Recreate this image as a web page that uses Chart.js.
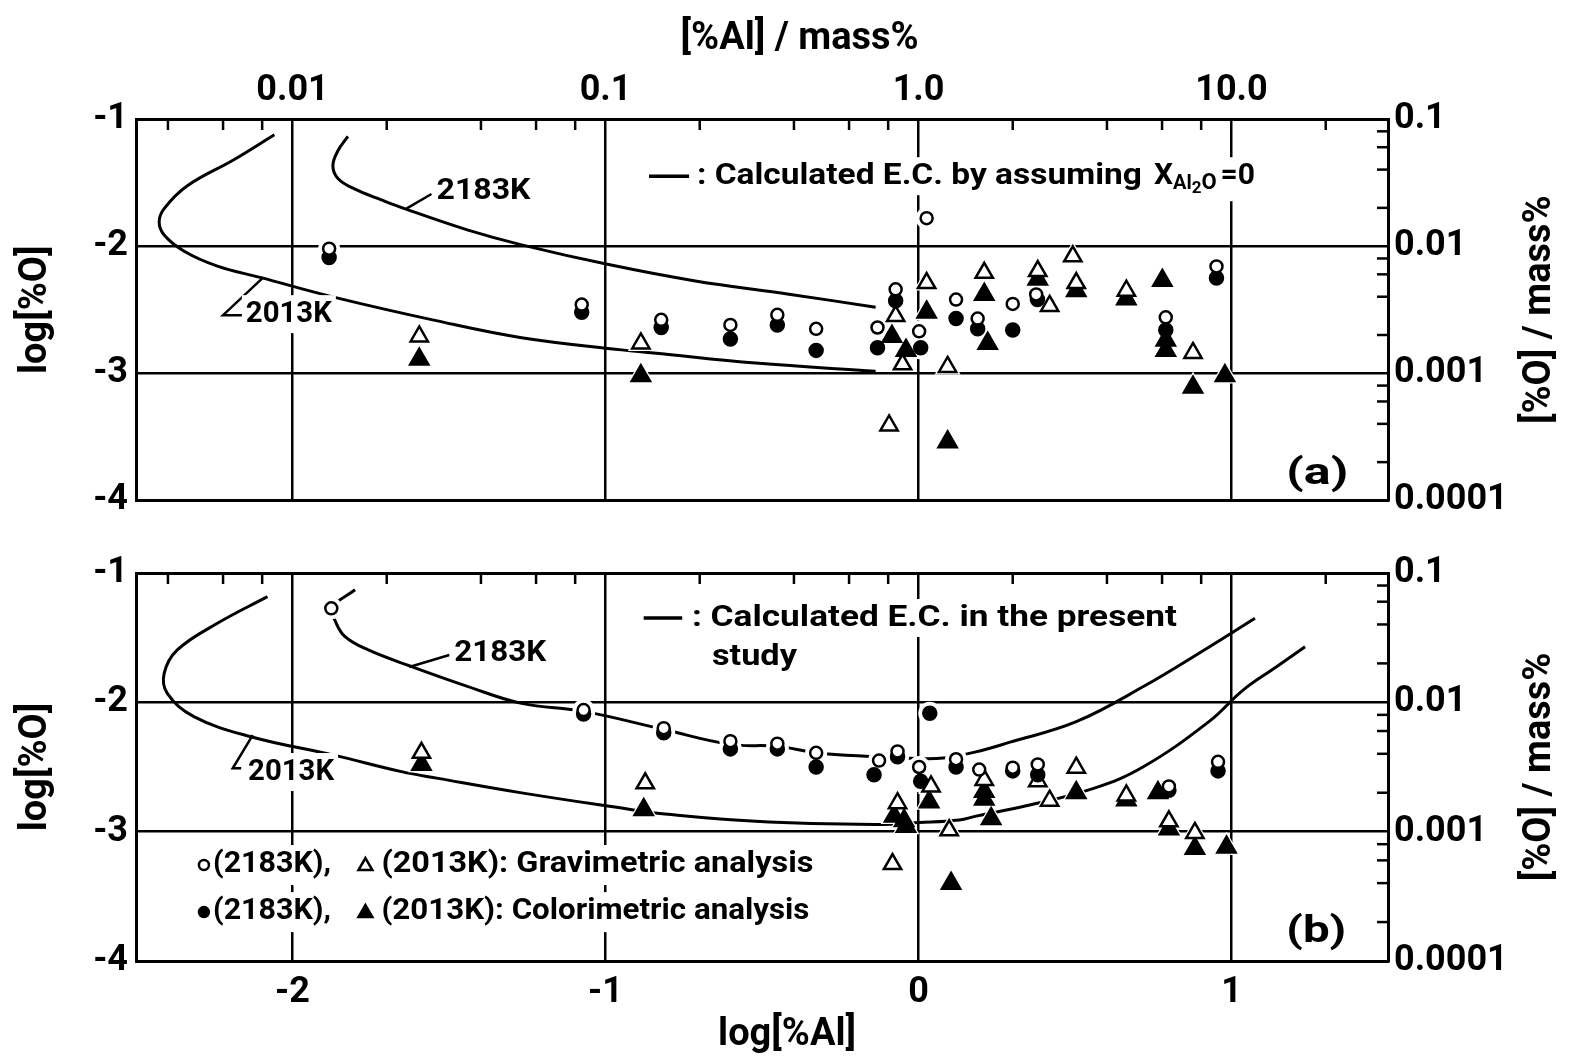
<!DOCTYPE html>
<html>
<head>
<meta charset="utf-8">
<script src="https://cdn.jsdelivr.net/npm/chart.js@4.4.1/dist/chart.umd.min.js"></script>
<style>
    html, body { margin: 0; padding: 0; background: #fff; }
    .panel { position: absolute; left: 0; width: 1569px; }
    #wrapA { top: 0; height: 530px; }
    #wrapB { top: 530px; height: 534px; }
</style>
</head>
<body>
<div class="panel" id="wrapA"><canvas id="chartA" width="1569" height="530"></canvas></div>
<div class="panel" id="wrapB"><canvas id="chartB" width="1569" height="534"></canvas></div>
<script>
// Axis ticks
const logAlMajor = [-2, -1, 0, 1];
const massAlLabels = ['0.01', '0.1', '1.0', '10.0'];
const logOMajor = [-1, -2, -3, -4];
const massOLabels = ['0.1', '0.01', '0.001', '0.0001'];
const minorMultiples = [2, 4, 6, 8];

// Panel (a) - open circles: 2183K gravimetric
const aOpenCircleX = [-1.883, -1.076, -0.822, -0.601, -0.451, -0.327, -0.073, -0.131, 0.002, 0.026, 0.12, 0.189, 0.301, 0.376, 0.79, 0.952];
const aOpenCircleY = [-2.02, -2.46, -2.58, -2.62, -2.54, -2.65, -2.34, -2.64, -2.67, -1.78, -2.42, -2.57, -2.455, -2.38, -2.56, -2.16];
// filled circles: 2183K colorimetric
const aFilledCircleX = [-1.883, -1.076, -0.822, -0.601, -0.451, -0.327, -0.073, -0.131, 0.007, 0.12, 0.189, 0.301, 0.38, 0.79, 0.952];
const aFilledCircleY = [-2.09, -2.52, -2.64, -2.73, -2.62, -2.82, -2.43, -2.80, -2.80, -2.57, -2.65, -2.66, -2.42, -2.66, -2.25];
// open triangles: 2013K gravimetric
const aOpenTriX = [-1.595, -0.887, -0.073, -0.051, -0.094, 0.026, 0.093, 0.21, 0.381, 0.419, 0.493, 0.504, 0.664, 0.877];
const aOpenTriY = [-2.71, -2.765, -2.55, -2.93, -3.41, -2.29, -2.95, -2.21, -2.196, -2.47, -2.08, -2.29, -2.35, -2.84];
// filled triangles: 2013K colorimetric
const aFilledTriX = [-1.595, -0.887, -0.085, -0.04, 0.026, 0.093, 0.21, 0.221, 0.381, 0.504, 0.664, 0.779, 0.79, 0.79, 0.877, 0.979];
const aFilledTriY = [-2.89, -3.02, -2.71, -2.82, -2.52, -3.54, -2.38, -2.765, -2.26, -2.35, -2.415, -2.27, -2.74, -2.82, -3.11, -3.02];
// calculated curves, X(Al2O) = 0
const aCurve2183X = [-1.823, -1.855, -1.871, -1.854, -1.802, -1.716, -1.642, -1.439, -1.268, -0.99, -0.713, -0.414, -0.137];
const aCurve2183Y = [-1.137, -1.25, -1.37, -1.47, -1.55, -1.636, -1.705, -1.874, -1.99, -2.145, -2.274, -2.378, -2.48];
const aCurve2013X = [-2.058, -2.186, -2.336, -2.41, -2.426, -2.41, -2.346, -2.24, -2.10, -1.865, -1.545, -1.268, -0.948, -0.846, -0.52, -0.137];
const aCurve2013Y = [-1.124, -1.318, -1.525, -1.705, -1.81, -1.912, -2.04, -2.157, -2.248, -2.403, -2.584, -2.72, -2.816, -2.84, -2.92, -2.984];

// Panel (b)
const bOpenCircleX = [-1.876, -1.07, -0.814, -0.601, -0.451, -0.327, -0.126, -0.067, 0.002, 0.12, 0.194, 0.301, 0.381, 0.80, 0.957];
const bOpenCircleY = [-1.273, -2.06, -2.20, -2.30, -2.32, -2.39, -2.45, -2.38, -2.50, -2.44, -2.52, -2.505, -2.48, -2.65, -2.46];
const bFilledCircleX = [-1.07, -0.814, -0.601, -0.451, -0.327, -0.142, -0.067, 0.036, 0.007, 0.12, 0.301, 0.381, 0.80, 0.957];
const bFilledCircleY = [-2.09, -2.235, -2.36, -2.36, -2.50, -2.56, -2.42, -2.085, -2.61, -2.50, -2.53, -2.56, -2.68, -2.53];
const bOpenTriX = [-1.588, -0.873, -0.067, -0.083, 0.04, 0.098, 0.21, 0.381, 0.419, 0.504, 0.664, 0.80, 0.883];
const bOpenTriY = [-2.39, -2.626, -2.78, -3.25, -2.65, -2.99, -2.60, -2.61, -2.76, -2.505, -2.72, -2.92, -3.01];
const bFilledTriX = [-1.588, -0.878, -0.078, -0.046, -0.04, 0.034, 0.104, 0.21, 0.21, 0.232, 0.504, 0.664, 0.765, 0.80, 0.883, 0.984];
const bFilledTriY = [-2.48, -2.83, -2.88, -2.915, -2.96, -2.77, -3.40, -2.69, -2.75, -2.90, -2.70, -2.755, -2.70, -2.98, -3.13, -3.12];
// calculated curves in the present study
const bCurve2183X = [-1.80, -1.876, -1.865, -1.833, -1.758, -1.62, -1.439, -1.268, -1.07, -0.814, -0.601, -0.451, -0.327, -0.147, 0.0, 0.08, 0.18, 0.29, 0.504, 0.717, 0.93, 1.075];
const bCurve2183Y = [-1.13, -1.27, -1.363, -1.49, -1.595, -1.723, -1.878, -2.008, -2.07, -2.21, -2.325, -2.34, -2.39, -2.42, -2.435, -2.43, -2.385, -2.31, -2.15, -1.88, -1.57, -1.35];
const bCurve2013X = [-2.08, -2.24, -2.368, -2.41, -2.40, -2.315, -2.133, -1.865, -1.652, -1.535, -1.268, -0.916, -0.841, -0.52, -0.137, 0.002, 0.13, 0.184, 0.344, 0.557, 0.717, 0.93, 1.037, 1.144, 1.235];
const bCurve2013Y = [-1.183, -1.389, -1.595, -1.776, -1.93, -2.11, -2.266, -2.41, -2.536, -2.588, -2.70, -2.83, -2.856, -2.92, -2.945, -2.93, -2.91, -2.88, -2.80, -2.667, -2.50, -2.145, -1.905, -1.725, -1.57];

const FONT = "Roboto, 'DejaVu Sans', sans-serif";
const INK = '#000';

function pts(xs, ys) {
    return xs.map((x, i) => ({ x: x, y: ys[i] }));
}

// marker datasets + white halos (break grid lines and curves round the marks) + curves
function buildDatasets(p) {
    const marks = [
        { data: pts(p.oc[0], p.oc[1]), style: 'circle', r: 6, fill: '#fff' },
        { data: pts(p.fc[0], p.fc[1]), style: 'circle', r: 6.5, fill: INK },
        { data: pts(p.ot[0], p.ot[1]), style: 'triangle', r: 10, fill: '#fff' },
        { data: pts(p.ft[0], p.ft[1]), style: 'triangle', r: 10.5, fill: INK }
    ];
    const sets = [];
    marks.forEach(m => {
        sets.push({
            data: m.data, pointStyle: m.style, pointRadius: m.r,
            pointBackgroundColor: m.fill, pointBorderColor: INK, pointBorderWidth: 2.5,
            showLine: false
        });
    });
    marks.forEach(m => {
        sets.push({
            data: m.data, pointStyle: m.style, pointRadius: m.r + 5,
            pointBackgroundColor: '#fff', pointBorderWidth: 0, showLine: false
        });
    });
    p.curves.forEach(c => {
        sets.push({
            data: pts(c[0], c[1]), showLine: true, pointRadius: 0,
            borderColor: INK, borderWidth: 3, tension: 0.4, fill: false
        });
    });
    return sets;
}

function drawFit(ctx, str, x, y, width, bg) {
    const w = ctx.measureText(str).width;
    const sx = width ? width / w : 1;
    const drawn = w * sx;
    if (bg) {
        ctx.fillStyle = '#fff';
        ctx.fillRect(x - 4, y - 19, drawn + 8, 38);
        ctx.fillStyle = INK;
    }
    ctx.save();
    ctx.translate(x, y);
    ctx.scale(sx, 1);
    ctx.fillText(str, 0, 0);
    ctx.restore();
    return x + drawn;
}

function line(ctx, x1, y1, x2, y2) {
    ctx.beginPath();
    ctx.moveTo(x1, y1);
    ctx.lineTo(x2, y2);
    ctx.stroke();
}

const decorPlugin = {
    id: 'decor',
    afterDraw(chart, args, opts) {
        const ctx = chart.ctx;
        const xs = chart.scales.x, ys = chart.scales.y, ca = chart.chartArea;
        const px = v => xs.getPixelForValue(v);
        const py = v => ys.getPixelForValue(v);
        ctx.save();
        ctx.strokeStyle = INK;
        ctx.fillStyle = INK;
        ctx.lineWidth = 2.5;

        // inward minor ticks: top edge ([%Al]) and right edge ([%O])
        for (let k = -4; k <= 1; k++) {
            minorMultiples.forEach(m => {
                const v = Math.log10(m) + k;
                if (v > xs.min && v < xs.max) line(ctx, px(v), ca.top, px(v), ca.top + 11);
                if (v > ys.min && v < ys.max) line(ctx, ca.right, py(v), ca.right - 11, py(v));
            });
        }

        // leader lines
        (opts.leaders || []).forEach(l => {
            ctx.beginPath();
            l.forEach((q, i) => i ? ctx.lineTo(px(q[0]), py(q[1])) : ctx.moveTo(px(q[0]), py(q[1])));
            ctx.stroke();
        });

        ctx.textBaseline = 'middle';
        ctx.textAlign = 'left';
        (opts.texts || []).forEach(t => {
            ctx.font = 'bold ' + (t.size || 30) + 'px ' + FONT;
            drawFit(ctx, t.str, px(t.x), py(t.y), t.w, true);
        });

        // legend for curves
        if (opts.curveKey) {
            const k = opts.curveKey;
            ctx.font = 'bold 30px ' + FONT;
            const tx = px(k.textX), ty = py(k.y);
            const end = drawFit(ctx, k.str, tx, ty, k.w, true);
            ctx.lineWidth = 3.5;
            line(ctx, px(k.dash[0]), ty, px(k.dash[1]), ty);
            if (k.sub) {
                ctx.fillStyle = '#fff';
                ctx.fillRect(end, ty - 19, 150, 44);
                ctx.fillStyle = INK;
                let x = end + 12;
                k.sub.forEach(s => {
                    ctx.font = 'bold ' + s.size + 'px ' + FONT;
                    ctx.fillText(s.str, x, ty + s.dy);
                    x += ctx.measureText(s.str).width + (s.gap || 0);
                });
            }
            if (k.line2) {
                ctx.font = 'bold 30px ' + FONT;
                drawFit(ctx, k.line2.str, px(k.line2.x), py(k.line2.y), k.line2.w, true);
            }
        }

        // legend for symbols
        if (opts.symbolKey) {
            ctx.font = 'bold 29px ' + FONT;
            opts.symbolKey.forEach(row => {
                const y = py(row.y);
                ctx.fillStyle = '#fff';
                ctx.fillRect(px(row.m1) - 10, y - 20, px(row.textX2) - px(row.m1) + row.w2 + 16, 40);
                ctx.fillStyle = INK;
                drawFit(ctx, '(2183K),', px(row.textX1), y, row.w1, false);
                drawFit(ctx, row.str, px(row.textX2), y, row.w2, false);
                ctx.lineWidth = 2.5;
                ctx.strokeStyle = INK;
                ctx.fillStyle = row.filled ? INK : '#fff';
                Chart.helpers.drawPoint(ctx, { pointStyle: 'circle', radius: 5, borderWidth: 2.5 }, px(row.m1), y);
                Chart.helpers.drawPoint(ctx, { pointStyle: 'triangle', radius: 8, borderWidth: 2.5 }, px(row.m2), y + 1);
                ctx.fillStyle = INK;
            });
        }

        // axis titles
        ctx.font = 'bold 38px ' + FONT;
        ctx.textAlign = 'center';
        ctx.fillStyle = INK;
        const mid = (ca.top + ca.bottom) / 2;
        ctx.save();
        ctx.translate(ca.left - 100, mid);
        ctx.rotate(-Math.PI / 2);
        ctx.fillText('log[%O]', 0, 0);
        ctx.restore();
        ctx.save();
        ctx.translate(ca.right + 152, mid);
        ctx.rotate(-Math.PI / 2);
        ctx.fillText('[%O] / mass%', 0, 0);
        ctx.restore();
        if (opts.topTitle) ctx.fillText('[%Al] / mass%', px(-0.38), ca.top - 80);
        if (opts.bottomTitle) ctx.fillText('log[%Al]', px(-0.42), ca.bottom + 74);
        ctx.restore();
    }
};

function makePanel(id, p) {
    const tickFont = { family: FONT, size: 36, weight: 'bold' };
    return new Chart(document.getElementById(id), {
        type: 'scatter',
        data: { datasets: buildDatasets(p) },
        plugins: [decorPlugin],
        options: {
            responsive: false,
            animation: false,
            events: [],
            layout: { padding: 0 },
            plugins: {
                legend: { display: false },
                tooltip: { enabled: false },
                decor: p.decor
            },
            scales: {
                x: {
                    type: 'linear', position: 'bottom', min: -2.5, max: 1.5,
                    afterBuildTicks: s => { s.ticks = logAlMajor.map(v => ({ value: v })); },
                    afterFit: s => { s.height = p.bottomH; },
                    grid: { color: INK, lineWidth: 2.5, drawTicks: false },
                    border: { display: true, color: INK, width: 3 },
                    ticks: {
                        display: p.bottomLabels, font: tickFont, color: INK, padding: 10,
                        callback: v => (v < 0 ? '-' + Math.abs(v) : String(v))
                    }
                },
                xTop: {
                    type: 'linear', position: 'top', min: -2.5, max: 1.5,
                    afterBuildTicks: s => { s.ticks = logAlMajor.map(v => ({ value: v })); },
                    afterFit: s => { s.height = p.topH; },
                    grid: { display: false, drawTicks: false },
                    border: { display: true, color: INK, width: 3 },
                    ticks: {
                        display: p.topLabels, font: tickFont, color: INK, padding: 6,
                        callback: v => massAlLabels[logAlMajor.indexOf(v)]
                    }
                },
                y: {
                    type: 'linear', position: 'left', min: -4, max: -1,
                    afterBuildTicks: s => { s.ticks = logOMajor.map(v => ({ value: v })); },
                    afterFit: s => { s.width = 136; },
                    grid: { color: INK, lineWidth: 2.5, drawTicks: false },
                    border: { display: true, color: INK, width: 3 },
                    ticks: {
                        font: tickFont, color: INK, padding: 8,
                        callback: v => '-' + Math.abs(v)
                    }
                },
                yRight: {
                    type: 'linear', position: 'right', min: -4, max: -1,
                    afterBuildTicks: s => { s.ticks = logOMajor.map(v => ({ value: v })); },
                    afterFit: s => { s.width = 181; },
                    grid: { display: false, drawTicks: false },
                    border: { display: true, color: INK, width: 3 },
                    ticks: {
                        font: tickFont, color: INK, padding: 6,
                        callback: v => massOLabels[logOMajor.indexOf(v)]
                    }
                }
            }
        }
    });
}

makePanel('chartA', {
    oc: [aOpenCircleX, aOpenCircleY], fc: [aFilledCircleX, aFilledCircleY],
    ot: [aOpenTriX, aOpenTriY], ft: [aFilledTriX, aFilledTriY],
    curves: [[aCurve2183X, aCurve2183Y], [aCurve2013X, aCurve2013Y]],
    topH: 119, bottomH: 24, topLabels: true, bottomLabels: false,
    decor: {
        topTitle: true,
        texts: [
            { str: '2183K', x: -1.54, y: -1.574, w: 94 },
            { str: '2013K', x: -2.149, y: -2.535, w: 86 },
            { str: '(a)', x: 1.175, y: -3.80, w: 62, size: 36 }
        ],
        leaders: [
            [[-1.636, -1.705], [-1.556, -1.59]],
            [[-2.094, -2.248], [-2.222, -2.543], [-2.158, -2.543]]
        ],
        curveKey: {
            str: ': Calculated E.C. by assuming', textX: -0.708, y: -1.45, w: 445,
            dash: [-0.861, -0.733],
            sub: [
                { str: 'X', size: 30, dy: 0 },
                { str: 'Al', size: 20, dy: 8 },
                { str: '2', size: 17, dy: 13 },
                { str: 'O', size: 22, dy: 7, gap: 4 },
                { str: '=0', size: 30, dy: 0 }
            ]
        }
    }
});

makePanel('chartB', {
    oc: [bOpenCircleX, bOpenCircleY], fc: [bFilledCircleX, bFilledCircleY],
    ot: [bOpenTriX, bOpenTriY], ft: [bFilledTriX, bFilledTriY],
    curves: [[bCurve2183X, bCurve2183Y], [bCurve2013X, bCurve2013Y]],
    topH: 43, bottomH: 103, topLabels: false, bottomLabels: true,
    decor: {
        bottomTitle: true,
        texts: [
            { str: '2183K', x: -1.483, y: -1.626, w: 92 },
            { str: '2013K', x: -2.142, y: -2.539, w: 86 },
            { str: '(b)', x: 1.175, y: -3.784, w: 60, size: 36 }
        ],
        leaders: [
            [[-1.627, -1.727], [-1.499, -1.634]],
            [[-2.127, -2.253], [-2.191, -2.51], [-2.164, -2.51]]
        ],
        curveKey: {
            str: ': Calculated E.C. in the present', textX: -0.724, y: -1.348, w: 485,
            dash: [-0.878, -0.755],
            line2: { str: 'study', x: -0.66, y: -1.65, w: 85 }
        },
        symbolKey: [
            { y: -3.258, m1: -2.283, m2: -1.767, textX1: -2.254, w1: 118, textX2: -1.716, w2: 432,
              str: '(2013K): Gravimetric analysis', filled: false },
            { y: -3.622, m1: -2.283, m2: -1.767, textX1: -2.254, w1: 118, textX2: -1.716, w2: 428,
              str: '(2013K): Colorimetric analysis', filled: true }
        ]
    }
});
</script>
</body>
</html>
